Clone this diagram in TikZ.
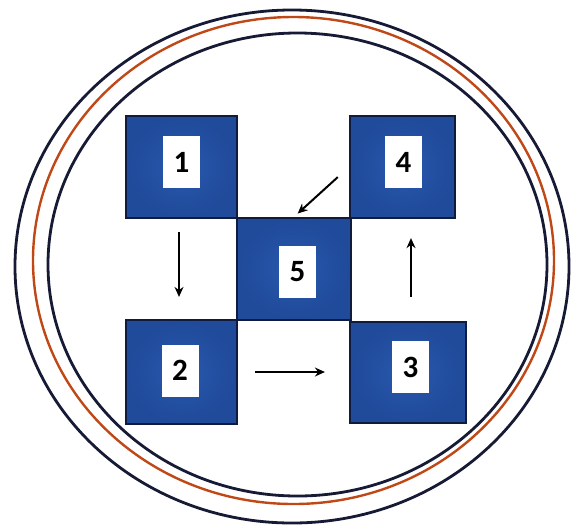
\documentclass[tikz,border=0pt]{standalone}
\usepackage{fontspec}
\setmainfont{Carlito}
\usepackage{tikz}
\usetikzlibrary{arrows.meta,positioning}
\definecolor{cellblue}{RGB}{40,88,172}
\definecolor{cellshade}{RGB}{32,74,154}
\definecolor{celledge}{RGB}{16,28,62}
\definecolor{ringnavy}{RGB}{22,26,52}
\definecolor{ringrust}{RGB}{192,72,22}

\begin{document}
\begin{tikzpicture}[x=1pt, y=-1pt,
          cell/.style={draw=celledge, line width=2.2pt,
                       inner color=cellblue, outer color=cellshade,
                       minimum width=111pt, minimum height=102pt,
                       inner sep=0pt},
          tag/.style={fill=white, minimum width=37pt, minimum height=52pt,
                      inner sep=0pt, font=\fontsize{31}{31}\selectfont\bfseries},
          flow/.style={line width=2pt, -{Stealth[length=10pt,width=9pt]}}]
        \useasboundingbox (0,0) rectangle (577,531);
        \draw[ringnavy, line width=2.8pt] (292,266.5) ellipse [x radius=277, y radius=256.5];
        \draw[ringrust, line width=2.4pt] (293.5,260.5) ellipse [x radius=260.5, y radius=243.5];
        \draw[ringnavy, line width=2.8pt] (297.5,264.5) ellipse [x radius=249.5, y radius=231.5];
        \node[cell] (b1) at (181.5,167) {};
        \node[cell, minimum width=105pt] (b4) at (402.5,167) {};
        \node[cell, minimum width=114pt] (b5) at (294,269) {};
        \node[cell, minimum height=104pt] (b2) at (181.5,372) {};
        \node[cell, minimum width=116pt, minimum height=101pt] (b3) at (408,372.5) {};
        \node[tag] (t1) at (181.5,162) {1};
        \node[tag] (t4) at (403.5,162) {4};
        \node[tag] (t5) at (297.5,271.5) {5};
        \node[tag] (t2) at (180,370.5) {2};
        \node[tag] (t3) at (410.5,367) {3};
        \draw[flow, shorten <=13pt, shorten >=22pt]
          ([xshift=-2.5pt]b1.south) -- ([xshift=-2.5pt]b2.north);
        \draw[flow, shorten <=17pt, shorten >=24pt] (b2.east) -- (b2.east -| b3.west);
        \draw[flow, shorten <=24pt, shorten >=19pt]
          ([xshift=3pt]b3.north) -- ([xshift=3pt]b3.north |- b4.south);
        \draw[flow, shorten <=15pt, shorten >=5pt] (b4.west) -- (b5.north);
      \end{tikzpicture}
\end{document}
